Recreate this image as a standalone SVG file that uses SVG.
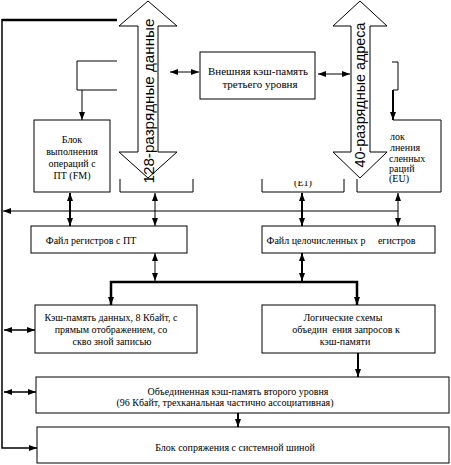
<svg xmlns="http://www.w3.org/2000/svg" width="451" height="465" viewBox="0 0 451 465">
<style>
.bx{fill:#fff;stroke:#000;stroke-width:1}
.ln{fill:none;stroke:#000;stroke-width:1}
.k{stroke-width:2}
.kk{stroke-width:2.5}
.t{font-family:"Liberation Serif","Times New Roman",serif;font-size:10px;text-anchor:middle;fill:#000}
.tl{font-family:"Liberation Serif","Times New Roman",serif;font-size:10px;fill:#000}
.big{font-family:"Liberation Sans",Arial,sans-serif;font-size:15.5px;text-anchor:middle;fill:#000}
</style>
<defs>
<marker id="a" viewBox="0 0 8 6" refX="8" refY="3" markerWidth="8" markerHeight="6" markerUnits="userSpaceOnUse" orient="auto-start-reverse"><path d="M0,0 L8,3 L0,6 z" fill="#000"/></marker>
<clipPath id="e1clip"><rect x="262" y="181" width="83" height="10"/></clipPath>
</defs>
<g id="connectors">
<line class="ln kk" x1="2" y1="20" x2="117" y2="20"/>
<path class="ln" style="stroke-width:1.5" d="M2,19 V448 H37" marker-end="url(#a)"/>
<path class="ln" d="M117,61 H77 V90 H117"/>
<path class="ln" d="M82,90 V120" marker-end="url(#a)"/>
<path class="ln" d="M392,62 H398 V90 H393"/>
<path class="ln k" d="M393,90 V120" marker-end="url(#a)"/>
<path class="ln" d="M170,72 H199" marker-start="url(#a)" marker-end="url(#a)"/>
<path class="ln" d="M318,74 H350" marker-start="url(#a)" marker-end="url(#a)"/>
<path class="ln" d="M398,211 H3" marker-end="url(#a)"/>
<path class="ln k" d="M70,193 V226" marker-start="url(#a)" marker-end="url(#a)"/>
<path class="ln" d="M155,193 V226" marker-start="url(#a)" marker-end="url(#a)"/>
<path class="ln k" d="M302,193 V226" marker-start="url(#a)" marker-end="url(#a)"/>
<path class="ln" d="M398,193 V226" marker-start="url(#a)" marker-end="url(#a)"/>
<path class="ln" d="M155,253 V281" marker-start="url(#a)" marker-end="url(#a)"/>
<path class="ln k" d="M302,253 V281" marker-start="url(#a)" marker-end="url(#a)"/>
<path class="ln kk" d="M111,305 V282 H357 V305" marker-start="url(#a)" marker-end="url(#a)"/>
<path class="ln k" d="M358,353 V377" marker-end="url(#a)"/>
<path class="ln k" d="M238,413 V427" marker-end="url(#a)"/>
<path class="ln" style="stroke-width:1.5" d="M4,330 H35" marker-start="url(#a)" marker-end="url(#a)"/>
<path class="ln" style="stroke-width:1.5" d="M4,392 H36" marker-start="url(#a)" marker-end="url(#a)"/>
</g>
<g id="bus128">
<polygon class="bx" points="148,1 177,26 158,26 158,152 177,152 148,178 119,152 138,152 138,26 119,26"/>
<text class="big" transform="translate(154,101) rotate(-90)" textLength="165" lengthAdjust="spacingAndGlyphs">128-разрядные данные</text>
</g>
<g id="bus40">
<polygon class="bx" points="360,1 387,26 370,26 370,152 387,152 360,178 333,152 351,152 351,26 333,26"/>
<text class="big" transform="translate(365,95) rotate(-90)" textLength="145" lengthAdjust="spacingAndGlyphs">40-разрядные адреса</text>
</g>
<g id="l3">
<rect class="bx" x="200" y="52" width="115" height="47"/>
<text class="t" style="font-size:11px" x="258" y="75">Внешняя кэш-память</text>
<text class="t" style="font-size:11px" x="260" y="88">третьего уровня</text>
</g>
<g id="fm">
<rect class="bx" x="34" y="120" width="76" height="72"/>
<text class="t" x="72" y="143">Блок</text>
<text class="t" x="72" y="155">выполнения</text>
<text class="t" x="72" y="167">операций с</text>
<text class="t" x="72" y="179">ПТ (FM)</text>
</g>
<g id="fa">
<path class="ln" d="M120,179 V192 H193 V179"/>
</g>
<g id="e1">
<path class="ln" d="M262,179 V192 H344 V179"/>
<text class="t" x="303" y="186" clip-path="url(#e1clip)">(E1)</text>
</g>
<g id="eu">
<path class="ln" d="M357,179 V192 H441 V120 H393"/>
<text class="tl" x="390" y="139.5">лок</text>
<text class="tl" x="390" y="150.5">лнения</text>
<text class="tl" x="389" y="161.5">сленных</text>
<text class="tl" x="389" y="171.5">раций</text>
<text class="tl" x="389" y="181.5">(EU)</text>
</g>
<g id="fpfile">
<rect class="bx" x="31" y="226" width="156" height="27"/>
<text class="t" x="91" y="244">Файл регистров с ПТ</text>
</g>
<g id="intfile">
<rect class="bx" x="262" y="226" width="173" height="27"/>
<text class="t" x="341" y="244" style="white-space:pre">Файл целочисленных р     егистров</text>
</g>
<g id="dcache">
<rect class="bx" x="35" y="305" width="162" height="48"/>
<text class="t" x="111" y="321">Кэш-память данных, 8 Кбайт, с</text>
<text class="t" x="111" y="333">прямым отображением, со</text>
<text class="t" x="112" y="345">скво зной записью</text>
</g>
<g id="logic">
<rect class="bx" x="262" y="305" width="173" height="48"/>
<text class="t" x="343" y="321">Логические схемы</text>
<text class="t" x="346" y="333" style="white-space:pre">объедин  ения запросов к</text>
<text class="t" x="345" y="345">кэш-памяти</text>
</g>
<g id="l2">
<rect class="bx" x="36" y="377" width="413" height="36"/>
<text class="t" x="238" y="395">Объединенная кэш-память второго уровня</text>
<text class="t" x="225" y="406">(96 Кбайт, трехканальная частично ассоциативная)</text>
</g>
<g id="biu">
<rect class="bx" x="37" y="427" width="412" height="36"/>
<text class="t" x="235" y="451">Блок сопряжения с системной шиной</text>
</g>
</svg>
